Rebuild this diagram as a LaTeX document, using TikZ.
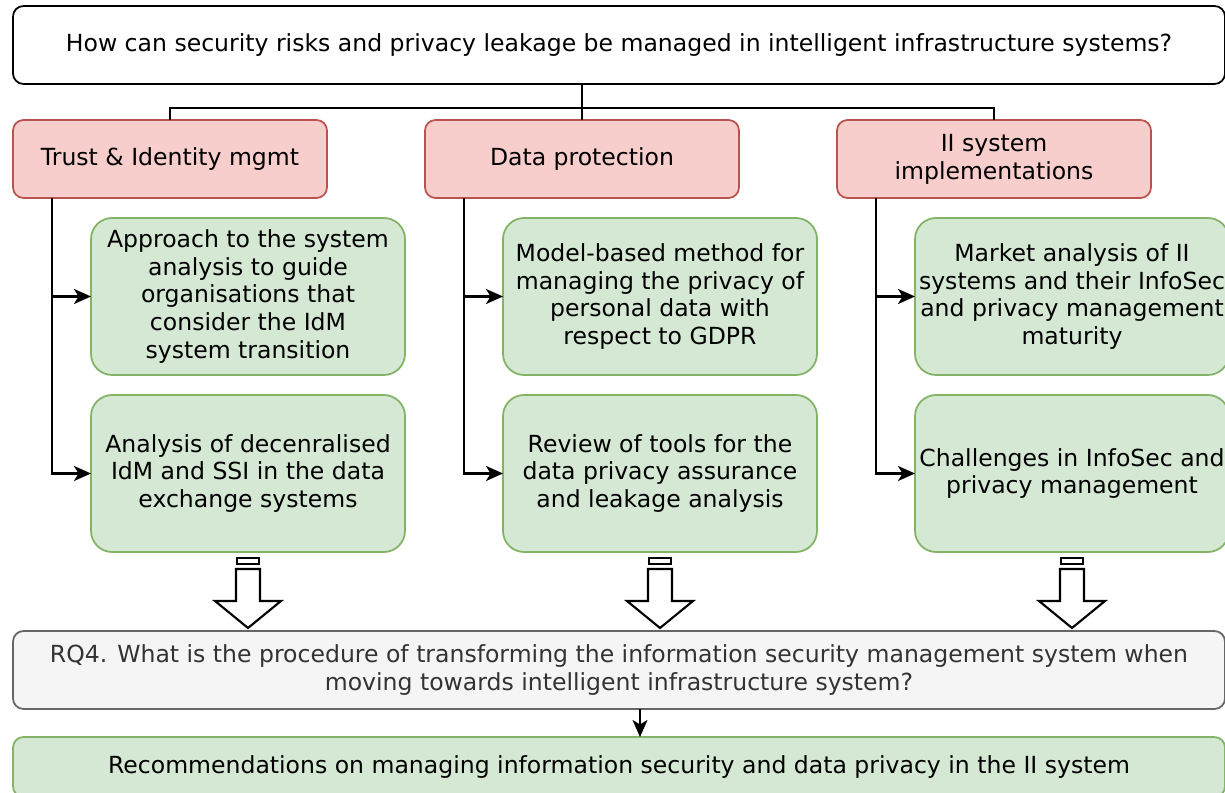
\documentclass[tikz,border=0pt]{standalone}
\usepackage{fontspec}
\setmainfont{DejaVu Sans}
\usetikzlibrary{positioning, arrows.meta}

\definecolor{redfill}{HTML}{F8CECC}
\definecolor{redline}{HTML}{B85450}
\definecolor{greenfill}{HTML}{D5E8D4}
\definecolor{greenline}{HTML}{82B366}
\definecolor{greyfill}{HTML}{F5F5F5}
\definecolor{greyline}{HTML}{666666}
\definecolor{greytext}{HTML}{333333}

\begin{document}
\begin{tikzpicture}[
  node distance=0.4cm and 1.96cm,
  base/.style={rectangle, draw, line width=1pt, align=center, inner xsep=0pt, outer sep=0pt, font=\fontsize{13.4}{15.9}\selectfont},
  question/.style={base, rounded corners=6pt, fill=white, minimum width=24.24cm, minimum height=1.56cm},
  topic/.style={base, rounded corners=6pt, draw=redline, fill=redfill, minimum width=6.28cm, minimum height=1.56cm},
  result/.style={base, rounded corners=12pt, draw=greenline, fill=greenfill, minimum width=6.28cm, minimum height=3.14cm},
  rqbox/.style={base, rounded corners=6pt, draw=greyline, fill=greyfill, text=greytext, minimum width=24.24cm, minimum height=1.56cm},
  outcome/.style={base, rounded corners=6pt, draw=greenline, fill=greenfill, minimum width=24.24cm, minimum height=1.2cm},
  arr/.style={-{Stealth[length=3.4mm, width=3mm, inset=0.9mm]}, line width=1.2pt},
  link/.style={line width=1.2pt},
  blockarr/.style={draw, line width=1.2pt, fill=white}
]
\useasboundingbox (0,0) rectangle (24.5,-15.86);

\node[question, anchor=north west] (q) at (0.26,-0.12) {How can security risks and privacy leakage be managed in intelligent infrastructure systems?};

% three research topics
\node[topic, below=0.72cm of q.south west, anchor=north west] (t1) {Trust \& Identity mgmt};
\node[topic, right=of t1] (t2) {Data protection};
\node[topic, right=of t2] (t3) {II system\\implementations};

% studies under each topic
\node[result, below=of t1.south west, anchor=north west, xshift=1.56cm] (g11) {Approach to the system\\analysis to guide\\organisations that\\consider the IdM\\system transition};
\node[result, below=of g11] (g12) {Analysis of decenralised\\IdM and SSI in the data\\exchange systems};
\node[result, below=of t2.south west, anchor=north west, xshift=1.56cm] (g21) {Model-based method for\\managing the privacy of\\personal data with\\respect to GDPR};
\node[result, below=of g21] (g22) {Review of tools for the\\data privacy assurance\\and leakage analysis};
\node[result, below=of t3.south west, anchor=north west, xshift=1.56cm] (g31) {Market analysis of II\\systems and their InfoSec\\and privacy management\\maturity};
\node[result, below=of g31] (g32) {Challenges in InfoSec and\\privacy management};

\node[rqbox, below=1.58cm of g12.south west, anchor=north west, xshift=-1.56cm] (rq) {RQ4. What is the procedure of transforming the information security management system when\\moving towards intelligent infrastructure system?};
\node[outcome, below=0.56cm of rq] (rec) {Recommendations on managing information security and data privacy in the II system};

% tree from the main question
\draw[link] (t2.north |- q.south) -- ++(0,-0.48) coordinate (hub) -| (t1.north);
\draw[link] (hub) -| (t3.north);
\draw[link] (hub) -- (t2.north);

\draw[arr] ([xshift=0.78cm]t1.south west) |- (g11.west);
\draw[arr] ([xshift=0.78cm]t1.south west) |- (g12.west);
\draw[arr] ([xshift=0.78cm]t2.south west) |- (g21.west);
\draw[arr] ([xshift=0.78cm]t2.south west) |- (g22.west);
\draw[arr] ([xshift=0.78cm]t3.south west) |- (g31.west);
\draw[arr] ([xshift=0.78cm]t3.south west) |- (g32.west);

% hollow arrows down to RQ4
\foreach \g in {g12, g22, g32} {
  \draw[blockarr] ([xshift=-0.22cm, yshift=-0.12cm]\g.south) rectangle ([xshift=0.22cm, yshift=-0.24cm]\g.south);
  \draw[blockarr] (\g.south) ++(-0.24,-0.34) -- ++(0,-0.64) -- ++(-0.42,0) -- ++(0.66,-0.54) -- ++(0.66,0.54) -- ++(-0.42,0) -- ++(0,0.64) -- cycle;
}

\draw[arr] ([xshift=0.42cm]rq.south) -- ([xshift=0.42cm]rec.north);

\end{tikzpicture}
\end{document}
